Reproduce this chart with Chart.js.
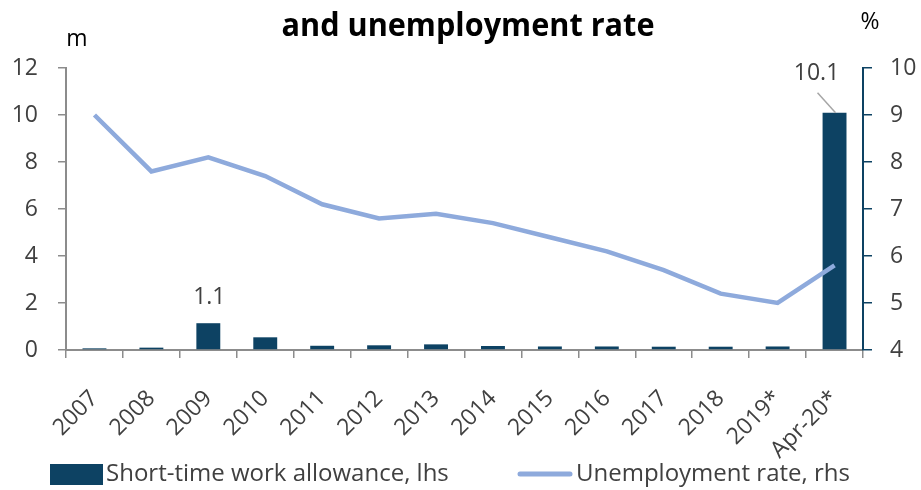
<!DOCTYPE html>
<html>
<head>
<meta charset="utf-8">
<script src="https://cdn.jsdelivr.net/npm/chart.js@4"></script>
<style>
    body { margin: 0; background: #fff; }
    #wrap { width: 921px; height: 490px; position: relative; }
</style>
</head>
<body>
<div id="wrap"><canvas id="chart" width="921" height="490"></canvas></div>
<script>
// Data
const years = ['2007', '2008', '2009', '2010', '2011', '2012', '2013', '2014', '2015', '2016', '2017', '2018', '2019*', 'Apr-20*'];
const allowance = [0.07, 0.1, 1.14, 0.54, 0.18, 0.2, 0.24, 0.17, 0.15, 0.15, 0.14, 0.14, 0.15, 10.1];
const unemployment = [9.0, 7.8, 8.1, 7.7, 7.1, 6.8, 6.9, 6.7, 6.4, 6.1, 5.7, 5.2, 5.0, 5.8];
const leftTicks = [0, 2, 4, 6, 8, 10, 12];
const rightTicks = [4, 5, 6, 7, 8, 9, 10];

const barColor = '#0d4263';
const lineColor = '#8eaadc';
const axisGray = '#8c8c8c';
const textColor = '#404040';
const tickFont = "'Open Sans', sans-serif";

// labels, unit titles and legend drawn on top
const extras = {
    id: 'extras',
    afterDraw(chart) {
        const ctx = chart.ctx;
        const x = chart.scales.x;
        const yL = chart.scales.yL;
        ctx.save();

        // title (squeezed to look like the narrow original font)
        ctx.fillStyle = '#000';
        ctx.font = "bold 32px " + tickFont;
        ctx.textAlign = 'center';
        ctx.textBaseline = 'middle';
        ctx.fillText('and unemployment rate', 468, 27, 373);

        // unit labels
        ctx.font = "23px " + tickFont;
        ctx.fillText('m', 77, 39);
        ctx.fillText('%', 870, 22);

        // data labels
        ctx.fillStyle = textColor;
        ctx.font = "23px " + tickFont;
        const i09 = 2;
        ctx.fillText('1.1', x.getPixelForValue(i09) + 1, yL.getPixelForValue(allowance[i09]) - 26);

        const iLast = allowance.length - 1;
        const bx = x.getPixelForValue(iLast);
        const by = yL.getPixelForValue(allowance[iLast]);
        ctx.fillText('10.1', bx - 18, by - 39);
        ctx.strokeStyle = '#a6a6a6';
        ctx.lineWidth = 1.5;
        ctx.beginPath();
        ctx.moveTo(bx - 17, by - 20);
        ctx.lineTo(bx + 1, by);
        ctx.stroke();

        // legend
        ctx.font = "24px " + tickFont;
        ctx.textAlign = 'left';
        ctx.fillStyle = barColor;
        ctx.fillRect(50, 464, 53, 21);
        ctx.fillStyle = textColor;
        ctx.fillText('Short-time work allowance, lhs', 106, 474, 369);
        ctx.strokeStyle = lineColor;
        ctx.lineWidth = 5;
        ctx.lineCap = 'round';
        ctx.beginPath();
        ctx.moveTo(520, 474);
        ctx.lineTo(570, 474);
        ctx.stroke();
        ctx.fillText('Unemployment rate, rhs', 576, 474, 290);
        ctx.restore();
    }
};

new Chart(document.getElementById('chart'), {
    data: {
        labels: years,
        datasets: [
            {
                type: 'line',
                label: 'Unemployment rate, rhs',
                data: unemployment,
                yAxisID: 'yR',
                borderColor: lineColor,
                borderWidth: 4.5,
                pointRadius: 0,
                tension: 0,
                order: 0
            },
            {
                type: 'bar',
                label: 'Short-time work allowance, lhs',
                data: allowance,
                yAxisID: 'yL',
                backgroundColor: barColor,
                categoryPercentage: 1,
                barPercentage: 0.42,
                order: 1
            }
        ]
    },
    options: {
        responsive: false,
        animation: false,
        layout: { padding: { top: 68, bottom: 20, left: 0, right: 0 } },
        plugins: {
            legend: { display: false },
            tooltip: { enabled: false }
        },
        scales: {
            x: {
                offset: true,
                grid: { offset: true, drawOnChartArea: false, color: axisGray, tickLength: 8, lineWidth: 1.5 },
                border: { color: axisGray, width: 2 },
                ticks: {
                    color: textColor,
                    font: { size: 23, family: tickFont },
                    maxRotation: 45,
                    minRotation: 45,
                    padding: 27
                },
                afterFit: s => { s.height = 120; }
            },
            yL: {
                position: 'left',
                min: 0,
                max: 12,
                afterBuildTicks: s => { s.ticks = leftTicks.map(v => ({ value: v })); },
                grid: { drawOnChartArea: false, color: axisGray, tickLength: 8, lineWidth: 1.5 },
                border: { color: axisGray, width: 2 },
                ticks: { color: textColor, font: { size: 23, family: tickFont }, padding: 20 },
                afterFit: s => { s.width = 66; }
            },
            yR: {
                position: 'right',
                min: 4,
                max: 10,
                afterBuildTicks: s => { s.ticks = rightTicks.map(v => ({ value: v })); },
                grid: { drawOnChartArea: false, color: barColor, tickLength: 9, lineWidth: 1.5 },
                border: { color: barColor, width: 2 },
                ticks: { color: textColor, font: { size: 23, family: tickFont }, padding: 18 },
                afterFit: s => { s.width = 58; }
            }
        }
    },
    plugins: [extras]
});
</script>
</body>
</html>
